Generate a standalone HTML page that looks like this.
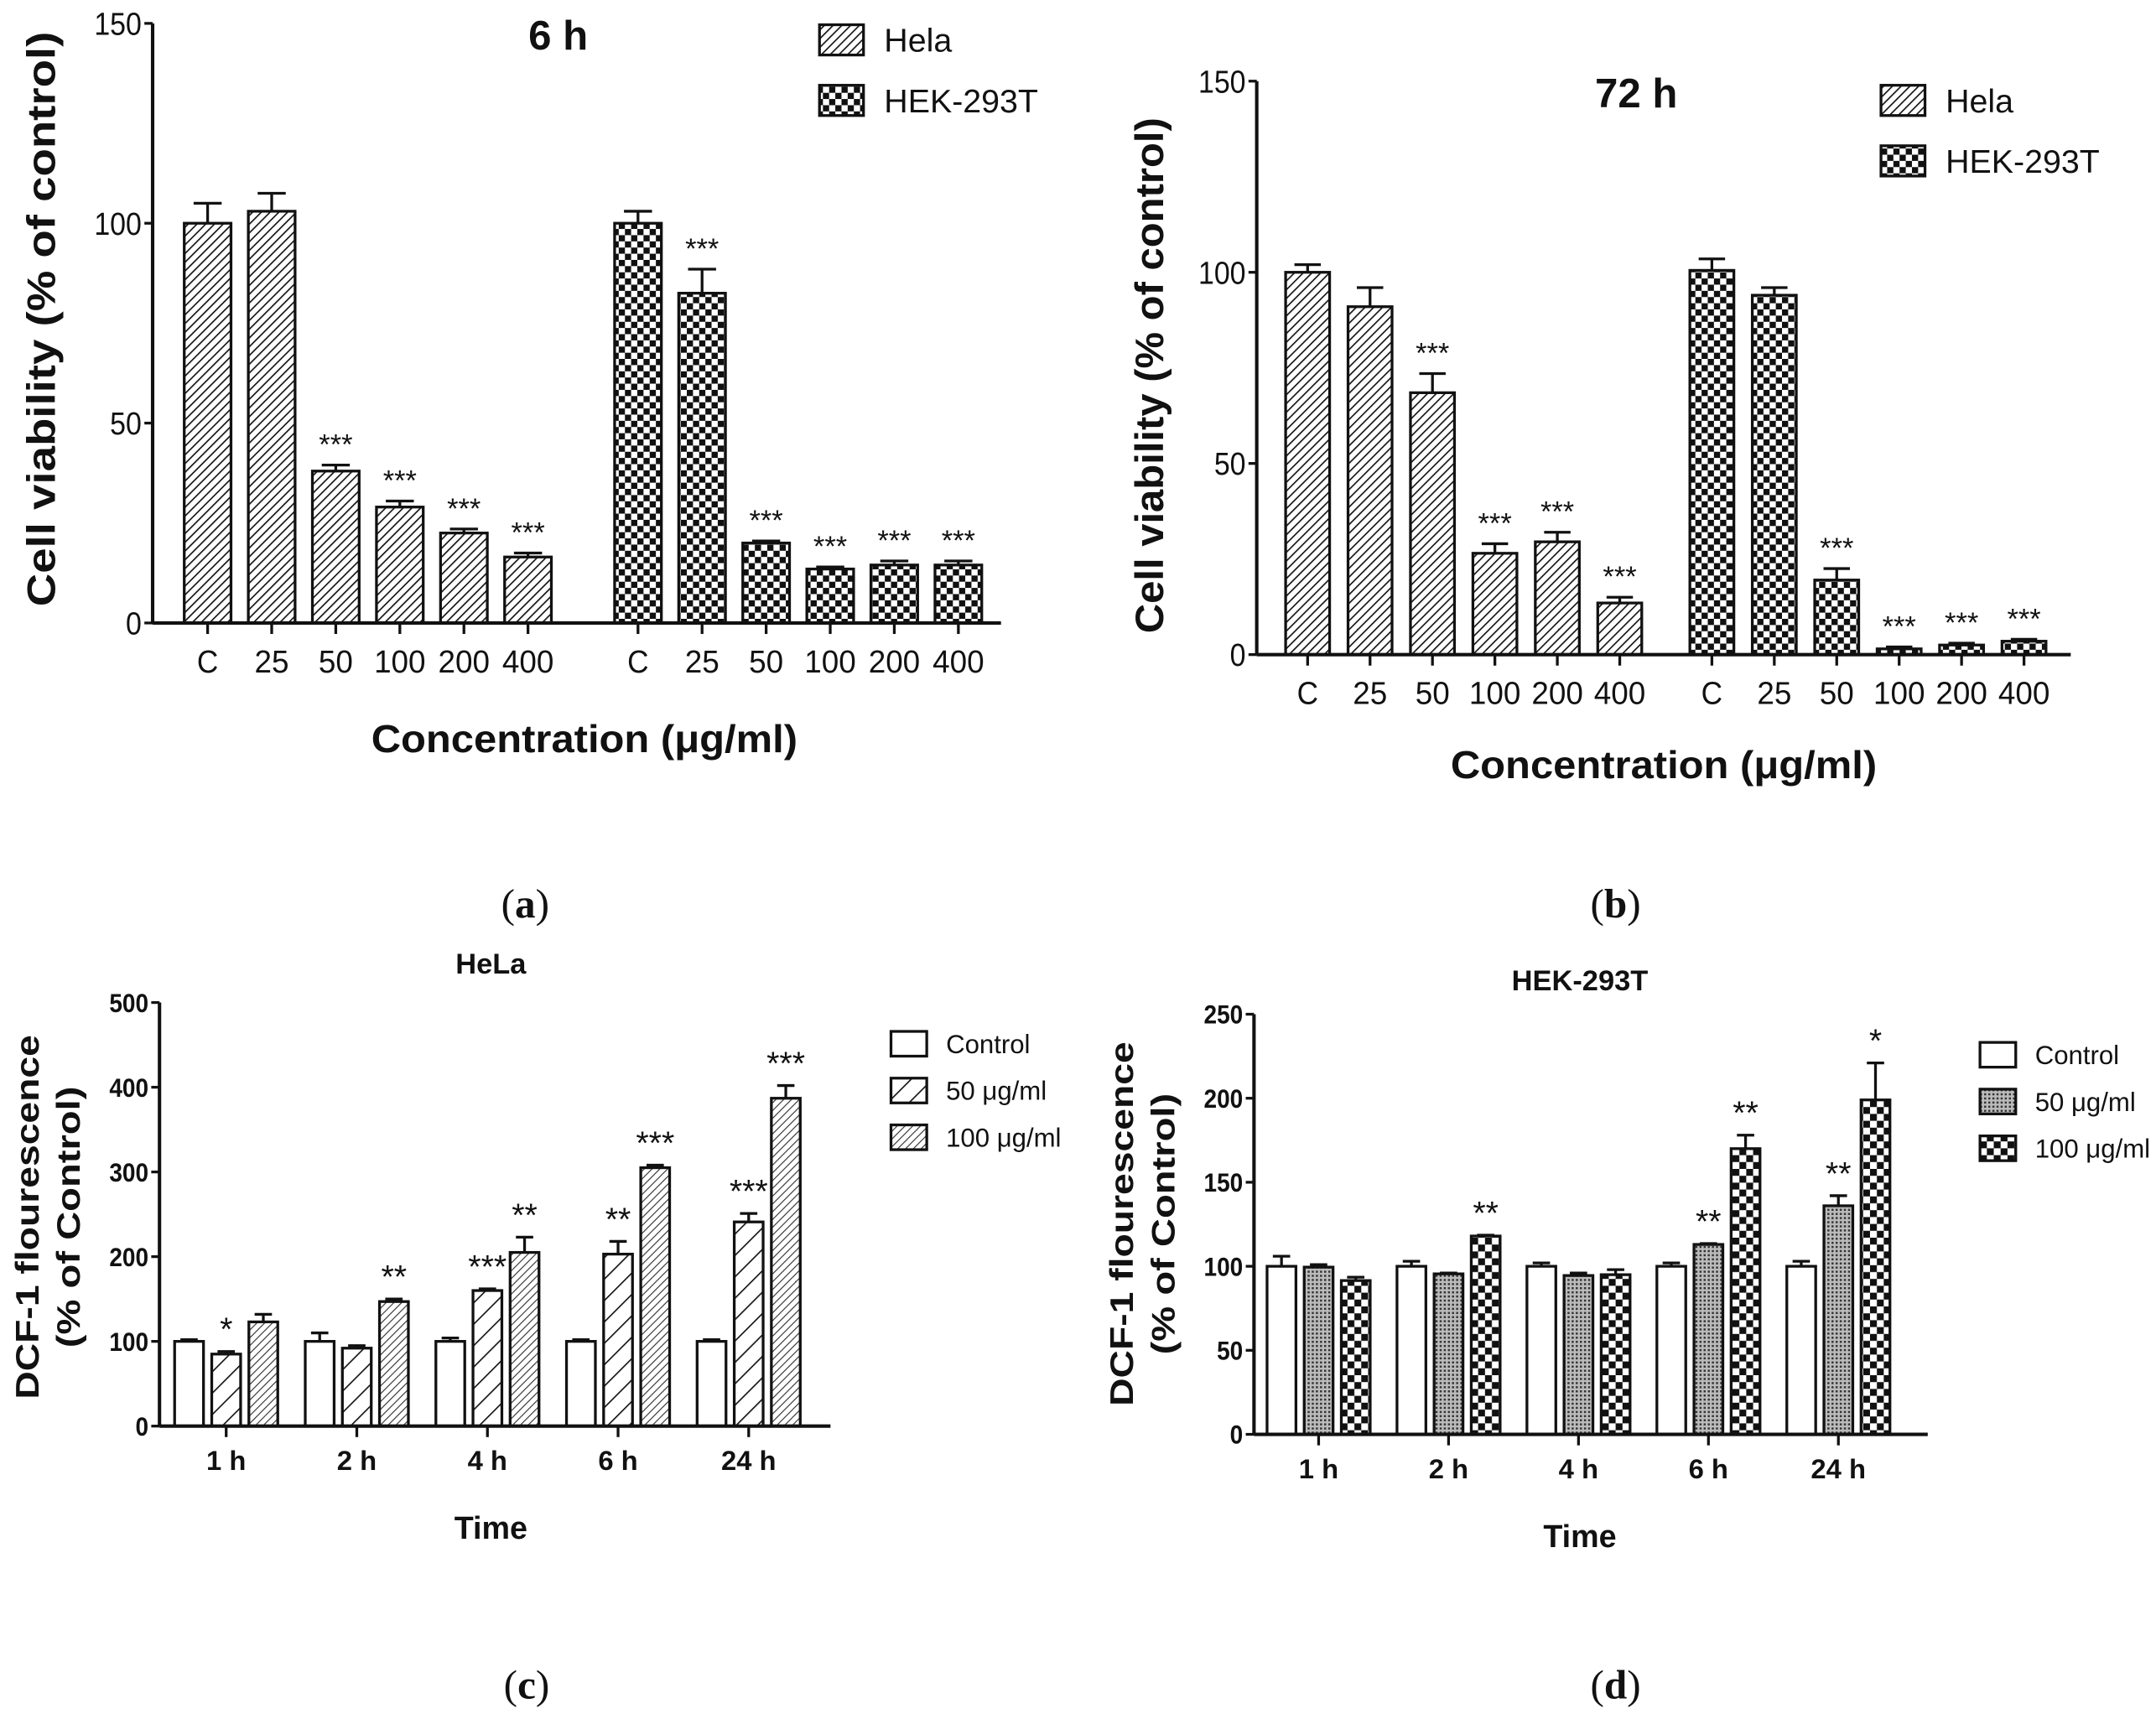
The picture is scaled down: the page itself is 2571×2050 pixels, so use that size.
<!DOCTYPE html>
<html><head><meta charset="utf-8">
<style>
html,body{margin:0;padding:0;background:#fff;}
svg{display:block;}
text{font-family:"Liberation Sans",Arial,sans-serif;fill:#111;}
</style></head>
<body>
<svg id="fig" width="2571" height="2050" viewBox="0 0 1568 1250" preserveAspectRatio="none" xmlns="http://www.w3.org/2000/svg">
<defs>
 <pattern id="hatch" patternUnits="userSpaceOnUse" width="4.5" height="4.5" patternTransform="rotate(45)">
  <rect width="4.5" height="4.5" fill="#fff"/><line x1="0" y1="0" x2="0" y2="4.5" stroke="#111" stroke-width="2"/>
 </pattern>
 <pattern id="hatchWide" patternUnits="userSpaceOnUse" width="11" height="11" patternTransform="rotate(45)">
  <rect width="11" height="11" fill="#fff"/><line x1="0" y1="0" x2="0" y2="11" stroke="#111" stroke-width="2"/>
 </pattern>
 <pattern id="hatchFine" patternUnits="userSpaceOnUse" width="4" height="4" patternTransform="rotate(45)">
  <rect width="4" height="4" fill="#fff"/><line x1="0" y1="0" x2="0" y2="4" stroke="#333" stroke-width="1.4"/>
 </pattern>
 <pattern id="checker" patternUnits="userSpaceOnUse" width="9" height="9">
  <rect width="9" height="9" fill="#fff"/><rect width="4.5" height="4.5" fill="#111"/><rect x="4.5" y="4.5" width="4.5" height="4.5" fill="#111"/>
 </pattern>
 <pattern id="checkerBig" patternUnits="userSpaceOnUse" width="10" height="10">
  <rect width="10" height="10" fill="#fff"/><rect width="5" height="5" fill="#111"/><rect x="5" y="5" width="5" height="5" fill="#111"/>
 </pattern>
 <pattern id="dots" patternUnits="userSpaceOnUse" width="3" height="3">
  <rect width="3" height="3" fill="#bbb"/><rect width="1.5" height="1.5" fill="#333"/>
 </pattern>
</defs>
<g id="root"></g>
</svg>
<script>
// ===== Panel A (6 h) data =====
const aCats = ["C","25","50","100","200","400"];
const aHela = [100,103,38,29,22.5,16.5];
const aHelaErr = [5,4.5,1.5,1.5,1,1];
const aHek = [100,82.5,20,13.5,14.5,14.5];
const aHekErr = [3,6,0.5,0.5,1,1];
const aHelaSig = ["","","***","***","***","***"];
const aHekSig = ["","***","***","***","***","***"];
const aTicks = [0,50,100,150];
// ===== Panel B (72 h) data =====
const bCats = ["C","25","50","100","200","400"];
const bHela = [100,91,68.5,26.5,29.5,13.5];
const bHelaErr = [2,5,5,2.5,2.5,1.5];
const bHek = [100.5,94,19.5,1.5,2.5,3.5];
const bHekErr = [3,2,3,0.5,0.5,0.5];
const bHelaSig = ["","","***","***","***","***"];
const bHekSig = ["","","***","***","***","***"];
const bTicks = [0,50,100,150];
// ===== Panel C (HeLa DCF) data =====
const cGroups = ["1 h","2 h","4 h","6 h","24 h"];
const cControl = [100,100,100,100,100];
const cControlErr = [2,10,4,2,2];
const c50 = [85,92,160,203,241];
const c50Err = [3,3,2,15,10];
const c100 = [123,147,205,305,387];
const c100Err = [9,3,18,3,15];
const c50Sig = ["*","","***","**","***"];
const c100Sig = ["","**","**","***","***"];
const cTicks = [0,100,200,300,400,500];
// ===== Panel D (HEK-293T DCF) data =====
const dGroups = ["1 h","2 h","4 h","6 h","24 h"];
const dControl = [100,100,100,100,100];
const dControlErr = [6,3,2,2,3];
const d50 = [99.5,95.5,94.5,113,136];
const d50Err = [1.5,0.5,1.5,0.5,6];
const d100 = [91.5,118,95,170,199];
const d100Err = [2,0.5,3,8,22];
const d50Sig = ["","","","**","**"];
const d100Sig = ["","**","","**","*"];
const dTicks = [0,50,100,150,200,250];

const NS="http://www.w3.org/2000/svg";
const root=document.getElementById('root');
function el(tag,attrs,parent,txt){const e=document.createElementNS(NS,tag);for(const k in attrs)e.setAttribute(k,attrs[k]);if(txt!==undefined)e.textContent=txt;(parent||root).appendChild(e);return e;}

function axes(g,ax,ticks,tickFont,bold){
  const yAxis=el('line',{x1:ax.x0,y1:ax.y(ticks[ticks.length-1]),x2:ax.x0,y2:ax.y(0),stroke:'#111','stroke-width':2.5},g);
  
  
  const xAxis=el('line',{x1:ax.x0,y1:ax.y(0),x2:ax.x1,y2:ax.y(0),stroke:'#111','stroke-width':2.5},g);
  
  
  ticks.forEach(t=>{
    el('line',{x1:ax.x0-6,y1:ax.y(t),x2:ax.x0,y2:ax.y(t),stroke:'#111','stroke-width':2},g);
    const tl=el('text',{x:ax.x0-8,y:ax.y(t)+tickFont*0.36,'text-anchor':'end','font-size':tickFont,'font-weight':bold?'bold':'normal',textLength:String(t).length*tickFont*0.5,lengthAdjust:'spacingAndGlyphs'},g,String(t));
    
    
  });
}
function bar(g,cx,w,v,err,ax,fill,name){
  const top=ax.y(v), base=ax.y(0), et=ax.y(v+err);
  el('line',{x1:cx,y1:top,x2:cx,y2:et,stroke:'#111','stroke-width':2},g);
  el('line',{x1:cx-w*0.3,y1:et,x2:cx+w*0.3,y2:et,stroke:'#111','stroke-width':2},g);
  const r=el('rect',{x:cx-w/2,y:top,width:w,height:base-top,fill:fill,stroke:'#111','stroke-width':2},g);
  
  
}
function sig(g,cx,v,err,ax,s,fs){
  if(!s)return;
  const t=el('text',{x:cx,y:ax.y(v+err)-8,'text-anchor':'middle','font-size':fs},g,s);
  
  
}
function label(g,x,y,txt,fs,opts,name){
  const a={x:x,y:y,'font-size':fs,'text-anchor':'middle'};
  Object.assign(a,opts||{});
  const t=el('text',a,g,txt);
  
  
  return t;
}
function legendEntry(g,x,y,w,h,fill,txt,fs,tx){
  const r=el('rect',{x:x,y:y,width:w,height:h,fill:fill,stroke:'#111','stroke-width':2},g);
  
  
  const t=el('text',{x:tx,y:y+h*0.5+fs*0.36,'font-size':fs},g,txt);
  
  
}

// ---- viability panel ----
function viability(cfg){
  const g=el('g',{});
  
  
  const ax={x0:cfg.x0,x1:cfg.x1,y:v=>cfg.yZero-(cfg.yZero-cfg.yTop)*v/150};
  cfg.hela.forEach((v,i)=>{const cx=cfg.hx+i*cfg.step;bar(g,cx,cfg.bw,v,cfg.helaErr[i],ax,'url(#hatch)','bar-hela-'+cfg.cats[i]);sig(g,cx,v,cfg.helaErr[i],ax,cfg.helaSig[i],21);});
  cfg.hek.forEach((v,i)=>{const cx=cfg.kx+i*cfg.step;bar(g,cx,cfg.bw,v,cfg.hekErr[i],ax,'url(#checker)','bar-hek-'+cfg.cats[i]);sig(g,cx,v,cfg.hekErr[i],ax,cfg.hekSig[i],21);});
  axes(g,ax,cfg.ticks,23,false);
  [cfg.hx,cfg.kx].forEach(st=>cfg.cats.forEach((c,i)=>{
    const cx=st+i*cfg.step;
    el('line',{x1:cx,y1:ax.y(0),x2:cx,y2:ax.y(0)+8,stroke:'#111','stroke-width':2},g);
    label(g,cx,ax.y(0)+36,c,23,{textLength:c.length*12.5+(c==='C'?3:0),lengthAdjust:'spacingAndGlyphs'},'x-tick-label');
  }));
  label(g,cfg.titleX,cfg.titleY,cfg.title,30,{'font-weight':'bold'},'chart-title');
  label(g,cfg.xtX,cfg.xtY,'Concentration (μg/ml)',28,{'font-weight':'bold',textLength:310,lengthAdjust:'spacingAndGlyphs'},'x-axis-title');
  label(g,0,0,'Cell viability (% of control)',29,{'font-weight':'bold',textLength:cfg.ytLen,lengthAdjust:'spacingAndGlyphs',transform:'translate('+cfg.ytX+','+cfg.ytY+') rotate(-90)'},'y-axis-title');
  legendEntry(g,cfg.lx,cfg.ly,32,22,'url(#hatch)','Hela',24,cfg.lx+47);
  legendEntry(g,cfg.lx,cfg.ly+44,32,22,'url(#checker)','HEK-293T',24,cfg.lx+47);
}
viability({name:'panel-a-6h',x0:111,x1:728,yTop:17,yZero:453,hx:151,kx:464,step:46.6,bw:34,cats:aCats,hela:aHela,helaErr:aHelaErr,hek:aHek,hekErr:aHekErr,helaSig:aHelaSig,hekSig:aHekSig,ticks:aTicks,title:'6 h',titleX:406,titleY:36,xtX:425,xtY:547,ytX:40,ytY:232,ytLen:418,lx:596,ly:18});
viability({name:'panel-b-72h',x0:914,x1:1506,yTop:59,yZero:476,hx:951,kx:1245,step:45.4,bw:32,cats:bCats,hela:bHela,helaErr:bHelaErr,hek:bHek,hekErr:bHekErr,helaSig:bHelaSig,hekSig:bHekSig,ticks:bTicks,title:'72 h',titleX:1190,titleY:78,xtX:1210,xtY:566,ytX:846,ytY:273,ytLen:375,lx:1368,ly:62});

// ---- DCF panel ----
function dcf(cfg){
  const g=el('g',{});
  
  
  const max=cfg.ticks[cfg.ticks.length-1];
  const ax={x0:cfg.x0,x1:cfg.x1,y:v=>cfg.yZero-(cfg.yZero-cfg.yTop)*v/max};
  const series=[[cfg.ctrl,cfg.ctrlErr,'#fff',null,'control'],[cfg.s50,cfg.s50Err,cfg.f50,cfg.sig50,'50'],[cfg.s100,cfg.s100Err,cfg.f100,cfg.sig100,'100']];
  cfg.groups.forEach((gname,i)=>{
    const gc=cfg.gx+i*cfg.gstep;
    series.forEach((s,j)=>{
      const cx=gc+(j-1)*27;
      bar(g,cx,21,s[0][i],s[1][i],ax,s[2],'bar-'+s[4]+'-'+gname.replace(' ',''));
      if(s[3])sig(g,cx,s[0][i],s[1][i],ax,s[3][i],24);
    });
    el('line',{x1:gc,y1:ax.y(0),x2:gc,y2:ax.y(0)+8,stroke:'#111','stroke-width':2},g);
    label(g,gc,ax.y(0)+32,gname,20,{'font-weight':'bold'},'x-tick-label');
  });
  axes(g,ax,cfg.ticks,19,true);
  label(g,cfg.titleX,cfg.titleY,cfg.title,21,{'font-weight':'bold'},'chart-title');
  label(g,cfg.titleX,cfg.yZero+82,'Time',23,{'font-weight':'bold'},'x-axis-title');
  label(g,0,0,'DCF-1 flourescence',24,{'font-weight':'bold',textLength:265,lengthAdjust:'spacingAndGlyphs',transform:'translate('+cfg.ytX+','+cfg.ytY+') rotate(-90)'},'y-axis-title');
  label(g,0,0,'(% of Control)',24,{'font-weight':'bold',textLength:190,lengthAdjust:'spacingAndGlyphs',transform:'translate('+(cfg.ytX+30)+','+cfg.ytY+') rotate(-90)'},'y-axis-title-line2');
  legendEntry(g,cfg.lx,cfg.ly,26,18,'#fff','Control',19,cfg.lx+40);
  legendEntry(g,cfg.lx,cfg.ly+34,26,18,cfg.f50,'50 μg/ml',19,cfg.lx+40);
  legendEntry(g,cfg.lx,cfg.ly+68,26,18,cfg.f100,'100 μg/ml',19,cfg.lx+40);
}
dcf({name:'panel-c-hela',x0:116,x1:604,yTop:729,yZero:1037,gx:164.5,gstep:95,groups:cGroups,ctrl:cControl,ctrlErr:cControlErr,s50:c50,s50Err:c50Err,s100:c100,s100Err:c100Err,sig50:c50Sig,sig100:c100Sig,f50:'url(#hatchWide)',f100:'url(#hatchFine)',ticks:cTicks,title:'HeLa',titleX:357,titleY:708,ytX:28,ytY:885,lx:648,ly:750});
dcf({name:'panel-d-hek',x0:912,x1:1402,yTop:737.5,yZero:1043,gx:959,gstep:94.5,groups:dGroups,ctrl:dControl,ctrlErr:dControlErr,s50:d50,s50Err:d50Err,s100:d100,s100Err:d100Err,sig50:d50Sig,sig100:d100Sig,f50:'url(#dots)',f100:'url(#checkerBig)',ticks:dTicks,title:'HEK-293T',titleX:1149,titleY:720,ytX:824,ytY:890,lx:1440,ly:758});

// panel letters
[['(a)',382,667],['(b)',1175,667],['(c)',383,1235],['(d)',1175,1235]].forEach(p=>{
  const t=el('text',{x:p[1],y:p[2],'text-anchor':'middle','font-size':30,style:'font-family:"Liberation Serif",serif'},root);
  el('tspan',{},t,'(');
  el('tspan',{'font-weight':'bold'},t,p[0].slice(1,2));
  el('tspan',{},t,')');
  
  
});
</script>
</body></html>
